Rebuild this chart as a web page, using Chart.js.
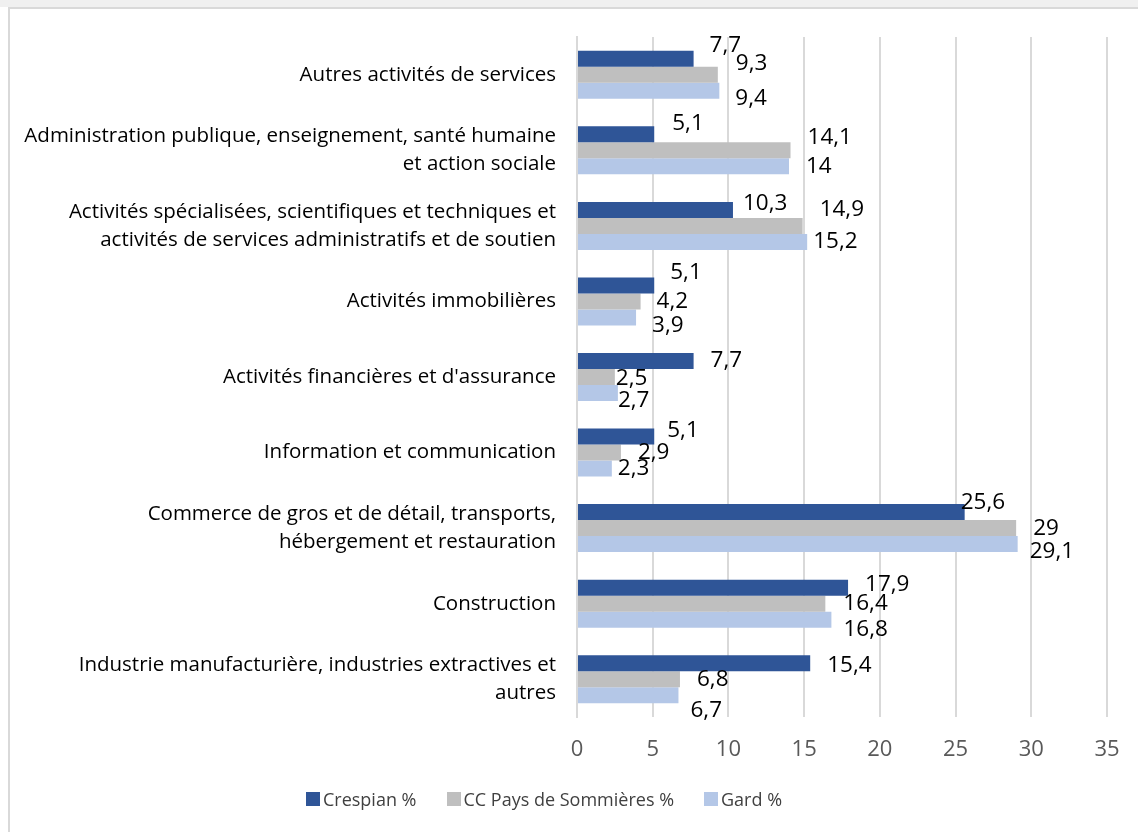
<!DOCTYPE html>
<html lang="fr">
<head>
<meta charset="utf-8">
<script src="https://cdn.jsdelivr.net/npm/chart.js@4.4.1/dist/chart.umd.min.js"></script>
<style>
    html, body { margin: 0; padding: 0; background: #fff; }
    body { width: 1138px; height: 832px; position: relative; overflow: hidden; font-family: "Open Sans", sans-serif; }
    #topbar { position: absolute; left: 0; top: 0; width: 1138px; height: 7px; background: #f0f0f0; }
    #frame { position: absolute; left: 8px; top: 7px; width: 1200px; height: 900px; border-left: 2px solid #d9d9d9; border-top: 2px solid #d9d9d9; box-sizing: border-box; }
    #wrap { position: absolute; left: 0; top: 0; width: 1138px; height: 832px; }
    #legend { position: absolute; left: 0; top: 787px; width: 1088px; display: flex; justify-content: center; gap: 30px; font-size: 18px; color: #404040; }
    .leg-item { display: flex; align-items: center; }
    .leg-box { width: 14px; height: 14px; margin-right: 3px; }
</style>
</head>
<body>
<div id="topbar"></div>
<div id="frame"></div>
<div id="wrap"><canvas id="chart" width="1138" height="832"></canvas></div>
<div id="legend"></div>

<script>
// Catégories (de haut en bas, comme affichées)
const categories = [
    'Autres activités de services',
    ['Administration publique, enseignement, santé humaine', 'et action sociale'],
    ['Activités spécialisées, scientifiques et techniques et', 'activités de services administratifs et de soutien'],
    'Activités immobilières',
    "Activités financières et d'assurance",
    'Information et communication',
    ['Commerce de gros et de détail, transports,', 'hébergement et restauration'],
    'Construction',
    ['Industrie manufacturière, industries extractives et', 'autres']
];

// Valeurs en %
const crespian = [7.7, 5.1, 10.3, 5.1, 7.7, 5.1, 25.6, 17.9, 15.4];
const ccSommieres = [9.3, 14.1, 14.9, 4.2, 2.5, 2.9, 29, 16.4, 6.8];
const gard = [9.4, 14, 15.2, 3.9, 2.7, 2.3, 29.1, 16.8, 6.7];

const seriesNames = ['Crespian %', 'CC Pays de Sommières %', 'Gard %'];
const xTicks = [0, 5, 10, 15, 20, 25, 30, 35];

const colors = ['#2f5597', '#bfbfbf', '#b4c7e7'];

// Décalages des étiquettes (placement manuel comme dans le classeur)
const labelNudges = [
    [[16, -13], [18, -11], [10, -6], [16, -13], [17, 0], [13, -6], [-4, -10], [17, -3], [17, 2]],
    [[18, -11], [17, -13], [17, -16], [16, 0], [1, 2], [17, 0], [17, 0], [18, 0], [17, 0]],
    [[16, 8], [17, 0], [6, 0], [16, 8], [0, 8], [6, 0], [12, 7], [12, 10], [12, 15]]
];

function formatFr(v) {
    return String(v).replace('.', ',');
}

// Plugin pour les étiquettes de données
const dataLabels = {
    id: 'dataLabels',
    afterDatasetsDraw(chart) {
        const ctx = chart.ctx;
        ctx.save();
        ctx.font = '22.5px "Open Sans", sans-serif';
        ctx.fillStyle = '#000';
        ctx.textAlign = 'left';
        ctx.textBaseline = 'middle';
        chart.data.datasets.forEach((ds, i) => {
            const meta = chart.getDatasetMeta(i);
            meta.data.forEach((bar, j) => {
                const n = labelNudges[i][j];
                ctx.fillText(formatFr(ds.data[j]), bar.x + n[0], bar.y + n[1]);
            });
        });
        ctx.restore();
    }
};

const seriesData = [crespian, ccSommieres, gard];

const chart = new Chart(document.getElementById('chart'), {
    type: 'bar',
    data: {
        labels: categories,
        datasets: seriesData.map((d, i) => ({
            label: seriesNames[i],
            data: d,
            backgroundColor: colors[i],
            borderWidth: 0,
            barPercentage: 1,
            categoryPercentage: 0.635
        }))
    },
    options: {
        indexAxis: 'y',
        responsive: false,
        animation: false,
        layout: {
            padding: { top: 37, right: 31, bottom: 55, left: 0 }
        },
        plugins: {
            legend: { display: false },
            tooltip: { enabled: false }
        },
        scales: {
            x: {
                min: 0,
                max: 35,
                afterBuildTicks: axis => { axis.ticks = xTicks.map(v => ({ value: v })); },
                afterFit: axis => { axis.height = 60; axis.paddingLeft = 0; axis.paddingRight = 0; },
                grid: { color: '#d9d9d9', lineWidth: 2, drawTicks: false },
                border: { display: false },
                ticks: {
                    color: '#595959',
                    font: { family: '"Open Sans", sans-serif', size: 22 },
                    padding: 20
                }
            },
            y: {
                afterFit: axis => { axis.width = 577; axis.paddingTop = 0; axis.paddingBottom = 0; },
                grid: { display: false, drawTicks: false },
                border: { color: '#d9d9d9', width: 2 },
                ticks: {
                    color: '#000',
                    font: { family: '"Open Sans", sans-serif', size: 20.5, lineHeight: 1.37 },
                    padding: 21
                }
            }
        }
    },
    plugins: [dataLabels]
});

// Légende HTML
const legend = document.getElementById('legend');
legend.innerHTML = seriesNames.map((name, i) => `
    <div class="leg-item"><span class="leg-box" style="background:${colors[i]}"></span>${name}</div>
`).join('');
</script>
</body>
</html>
